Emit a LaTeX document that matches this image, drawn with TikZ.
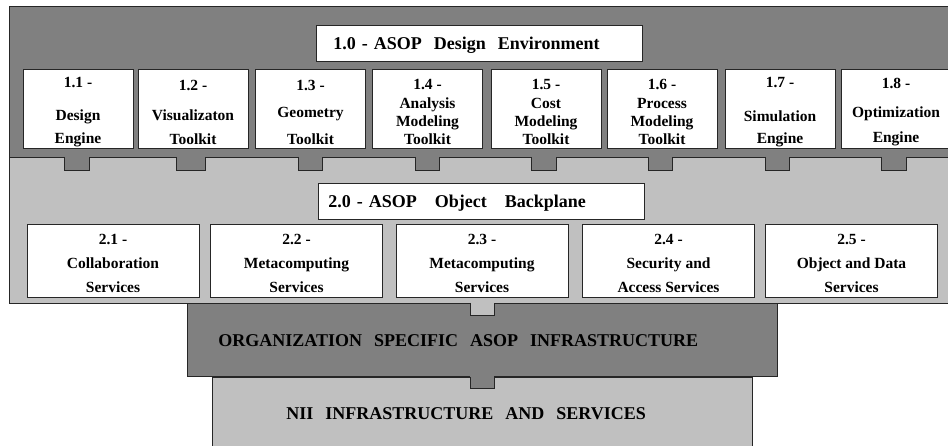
\documentclass[tikz,border=0pt]{standalone}
\usepackage{fontspec}
\setmainfont{Liberation Serif}[BoldFont={Liberation Serif Bold}]
\usepackage{xcolor}
\usepackage{tikz}
\usetikzlibrary{shapes,calc}

\definecolor{panelDark}{HTML}{808080}
\definecolor{panelLight}{HTML}{C0C0C0}
\definecolor{lineDark}{HTML}{262626}

% number line on top of a box, with a strut to push the text down
\newcommand{\toolNum}[1]{\rule{0pt}{18pt}#1 -}
\newcommand{\serviceNum}[1]{\rule{0pt}{16pt}#1 -}

\tikzstyle{tsBold} = [
    text=black,
    font=\bfseries\fontsize{15.5}{18.3}\selectfont
]
\tikzstyle{tsHeadBold} = [
    text=black,
    font=\bfseries\fontsize{18}{22}\selectfont
]
\tikzstyle{tsPanel} = [
    draw=lineDark,
    line width=0.8pt
]
\tikzstyle{tsBox} = [
    rectangle,
    tsBold,
    tsPanel,
    fill=white,
    align=center,
    inner sep=0pt
]
\tikzstyle{tsToolBox} = [
    tsBox,
    minimum width=110pt,
    minimum height=79pt
]
\tikzstyle{tsServiceBox} = [
    tsBox,
    minimum width=172pt,
    minimum height=73pt
]
\tikzstyle{tsHeader} = [
    rectangle,
    tsHeadBold,
    tsPanel,
    align=left,
    inner ysep=0pt,
    text height=16pt,
    minimum height=36pt,
    anchor=west
]

\begin{document}
\begin{tikzpicture}[x=1pt, y=-1pt]

        \useasboundingbox (0,0) rectangle (948,446);
        \clip (0,0) rectangle (948,446);

        % layer panels
        \draw[tsPanel, fill=panelDark] (9,6) rectangle (960,157);
        \draw[tsPanel, fill=panelLight] (9,157) rectangle (960,303);

        % 1.0 design environment
        \node[tsHeader, fill=white, text width=292pt, inner xsep=17pt] (env) at (316,43) {1.0 - ASOP\ \ Design\ \ Environment};

        \node[tsToolBox] (design) at (78,108.5) {\toolNum{1.1}\\[14pt]Design\\[5pt]Engine};
        \node[tsToolBox] (visual) at (193,108.5) {\toolNum{1.2}\\[12pt]Visualizaton\\[6pt]Toolkit};
        \node[tsToolBox] (geometry) at (310.5,108.5) {\toolNum{1.3}\\[9pt]Geometry\\[8pt]Toolkit};
        \node[tsToolBox] (analysis) at (427.5,108.5) {\toolNum{1.4}\\Analysis\\Modeling\\Toolkit};
        \node[tsToolBox] (cost) at (546,108.5) {\toolNum{1.5}\\Cost\\Modeling\\Toolkit};
        \node[tsToolBox] (process) at (662,108.5) {\toolNum{1.6}\\Process\\Modeling\\Toolkit};
        \node[tsToolBox] (simulation) at (780,108.5) {\toolNum{1.7}\\[15pt]Simulation\\[4pt]Engine};
        \node[tsToolBox] (optimization) at (896,108.5) {\toolNum{1.8}\\[10pt]Optimization\\[7pt]Engine};

        % tabs down into the backplane
        \fill[panelDark] (64,155.5) rectangle (89,170);
        \fill[panelDark] (176,155.5) rectangle (205,170);
        \fill[panelDark] (298,155.5) rectangle (322,170);
        \fill[panelDark] (415,155.5) rectangle (439,170);
        \fill[panelDark] (531,155.5) rectangle (556,170);
        \fill[panelDark] (648,155.5) rectangle (672,170);
        \fill[panelDark] (765,155.5) rectangle (789,170);
        \fill[panelDark] (881,155.5) rectangle (906,170);
        \draw[tsPanel] (64,157) -- (64,170) -- (89,170) -- (89,157);
        \draw[tsPanel] (176,157) -- (176,170) -- (205,170) -- (205,157);
        \draw[tsPanel] (298,157) -- (298,170) -- (322,170) -- (322,157);
        \draw[tsPanel] (415,157) -- (415,170) -- (439,170) -- (439,157);
        \draw[tsPanel] (531,157) -- (531,170) -- (556,170) -- (556,157);
        \draw[tsPanel] (648,157) -- (648,170) -- (672,170) -- (672,157);
        \draw[tsPanel] (765,157) -- (765,170) -- (789,170) -- (789,157);
        \draw[tsPanel] (881,157) -- (881,170) -- (906,170) -- (906,157);

        % 2.0 object backplane
        \node[tsHeader, fill=white, text width=306pt, inner xsep=10pt] (backplane) at (318,201.5) {2.0 - ASOP\ \ \ Object\ \ \ Backplane};

        \node[tsServiceBox] (collab) at (113,260.5) {\serviceNum{2.1}\\[6pt]Collaboration\\[5pt]Services};
        \node[tsServiceBox] (metaA) at (296.5,260.5) {\serviceNum{2.2}\\[6pt]Metacomputing\\[5pt]Services};
        \node[tsServiceBox] (metaB) at (482,260.5) {\serviceNum{2.3}\\[6pt]Metacomputing\\[5pt]Services};
        \node[tsServiceBox] (security) at (668.5,260.5) {\serviceNum{2.4}\\[6pt]Security and\\[5pt]Access Services};
        \node[tsServiceBox] (data) at (851.5,260.5) {\serviceNum{2.5}\\[6pt]Object and Data\\[5pt]Services};

        % infrastructure
        \node[tsHeader, fill=panelDark, minimum height=73pt, text height=14pt, text width=528pt, inner xsep=31pt] (org) at (187,339.5) {ORGANIZATION\ \ SPECIFIC\ \ ASOP\ \ INFRASTRUCTURE};
        \fill[panelLight] (470,301.5) rectangle (494,315);
        \draw[tsPanel] (470,303) -- (470,315) -- (494,315) -- (494,303);

        \node[tsHeader, fill=panelLight, minimum height=73pt, text height=12pt, text width=392pt, inner xsep=74pt] (nii) at (212,413.5) {NII\ \ INFRASTRUCTURE\ \ AND\ \ SERVICES};
        \fill[panelDark] (470,375.5) rectangle (494,388);
        \draw[tsPanel] (470,377) -- (470,388) -- (494,388) -- (494,377);

\end{tikzpicture}
\end{document}
